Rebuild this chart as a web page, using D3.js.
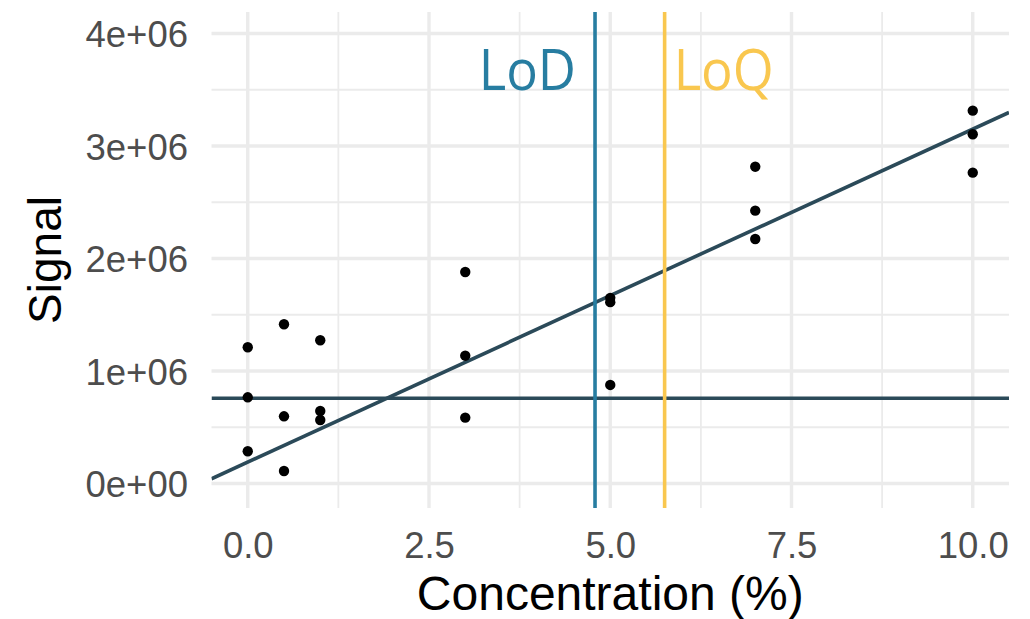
<!DOCTYPE html>
<html><head><meta charset="utf-8">
<script src="https://cdn.jsdelivr.net/npm/d3@7"></script>
<style>body{margin:0;background:#fff}svg{display:block}</style>
</head><body>
<script>
// Data
const concentration = [0,0,0, 0.5,0.5,0.5, 1,1,1, 3,3,3, 5,5,5, 7,7,7, 10,10,10];
const signal = [1211000,766000,286000, 1415000,597000,111000, 1273000,644000,564000,
  1880000,1136000,585000, 1650000,1612000,876000, 2816000,2425000,2173000, 3314000,3104000,2763000];
const fitIntercept = 190000;
const fitSlope = 296000;
const blankThreshold = 757000;
const lodValue = 4.79;
const loqValue = 5.75;
const xTicks = [0, 2.5, 5, 7.5, 10];
const xMinor = [1.25, 3.75, 6.25, 8.75];
const yTicks = [0, 1e6, 2e6, 3e6, 4e6];
const yMinor = [0.5e6, 1.5e6, 2.5e6, 3.5e6];
const yTickLabels = ["0e+00","1e+06","2e+06","3e+06","4e+06"];

const W = 1030, H = 619;
const svg = d3.select("body").append("svg").attr("width", W).attr("height", H);
svg.append("rect").attr("width", W).attr("height", H).attr("fill", "#fff");

const x = d3.scaleLinear().domain([-0.5, 10.5]).range([211.5, 1009]);
const y = d3.scaleLinear().domain([-218000, 4191000]).range([508, 12]);
const [x0, x1] = x.range(); const [y0, y1] = y.range();

const grid = svg.append("g");
grid.selectAll(".xm").data(xMinor).join("line")
  .attr("x1", d => x(d)).attr("x2", d => x(d)).attr("y1", y0).attr("y2", y1)
  .attr("stroke", "#ebebeb").attr("stroke-width", 1.8);
grid.selectAll(".ym").data(yMinor).join("line")
  .attr("y1", d => y(d)).attr("y2", d => y(d)).attr("x1", x0).attr("x2", x1)
  .attr("stroke", "#ebebeb").attr("stroke-width", 1.8);
grid.selectAll(".xM").data(xTicks).join("line")
  .attr("x1", d => x(d)).attr("x2", d => x(d)).attr("y1", y0).attr("y2", y1)
  .attr("stroke", "#ebebeb").attr("stroke-width", 3.4);
grid.selectAll(".yM").data(yTicks).join("line")
  .attr("y1", d => y(d)).attr("y2", d => y(d)).attr("x1", x0).attr("x2", x1)
  .attr("stroke", "#ebebeb").attr("stroke-width", 3.4);

// axes (labels only)
const fontAxis = "'Liberation Sans', Arial, sans-serif";
const xAxis = d3.axisBottom(x).tickValues(xTicks).tickFormat(d3.format(".1f")).tickSize(0).tickPadding(0);
const gx = svg.append("g").attr("transform", `translate(0,${y0})`).call(xAxis);
gx.select(".domain").remove();
gx.selectAll("text").attr("font-family", fontAxis).attr("font-size", 36.5).attr("fill", "#4d4d4d")
  .attr("dy", null).attr("y", 50);

const yAxis = d3.axisLeft(y).tickValues(yTicks).tickFormat((d, i) => yTickLabels[i]).tickSize(0).tickPadding(0);
const gy = svg.append("g").attr("transform", `translate(188,0)`).call(yAxis);
gy.select(".domain").remove();
gy.selectAll("text").attr("font-family", fontAxis).attr("font-size", 36.5).attr("fill", "#4d4d4d")
  .attr("x", 0).attr("dy", "0.36em");

// clip
svg.append("clipPath").attr("id", "clip").append("rect")
  .attr("x", x0).attr("y", y1).attr("width", x1 - x0).attr("height", y0 - y1);
const plot = svg.append("g").attr("clip-path", "url(#clip)");

const lineColor = "#2b4a59";
// threshold line
plot.append("line").attr("x1", x0).attr("x2", x1)
  .attr("y1", y(blankThreshold)).attr("y2", y(blankThreshold))
  .attr("stroke", lineColor).attr("stroke-width", 3.6);
// fit line
const xd = x.domain();
plot.append("line")
  .attr("x1", x(xd[0])).attr("y1", y(fitIntercept + fitSlope * xd[0]))
  .attr("x2", x(xd[1])).attr("y2", y(fitIntercept + fitSlope * xd[1]))
  .attr("stroke", lineColor).attr("stroke-width", 3.6);

// LoD / LoQ
plot.append("line").attr("x1", x(lodValue)).attr("x2", x(lodValue)).attr("y1", y0).attr("y2", y1)
  .attr("stroke", "#277da1").attr("stroke-width", 3.6);
plot.append("line").attr("x1", x(loqValue)).attr("x2", x(loqValue)).attr("y1", y0).attr("y2", y1)
  .attr("stroke", "#f9c74f").attr("stroke-width", 3.6);

// points
plot.selectAll("circle").data(concentration).join("circle")
  .attr("cx", d => x(d)).attr("cy", (d, i) => y(signal[i])).attr("r", 5.2).attr("fill", "#000");

// labels
const fontLab = "'Open Sans', 'Noto Sans', sans-serif";
svg.append("text").attr("transform", `translate(${x(lodValue) - 19},90) scale(0.94,1)`).attr("text-anchor", "end")
  .attr("font-family", fontLab).attr("font-size", 56).attr("fill", "#277da1").text("LoD");
svg.append("text").attr("transform", `translate(${x(loqValue) + 9},90) scale(0.94,1)`).attr("text-anchor", "start")
  .attr("font-family", fontLab).attr("font-size", 56).attr("fill", "#f9c74f").text("LoQ");

// axis titles
svg.append("text").attr("x", (x0 + x1) / 2).attr("y", 610).attr("text-anchor", "middle")
  .attr("font-family", fontAxis).attr("font-size", 48).attr("fill", "#000").text("Concentration (%)");
svg.append("text").attr("transform", `translate(61,${(y0 + y1) / 2}) rotate(-90)`).attr("text-anchor", "middle")
  .attr("font-family", fontAxis).attr("font-size", 46).attr("fill", "#000").text("Signal");
</script>
</body></html>
